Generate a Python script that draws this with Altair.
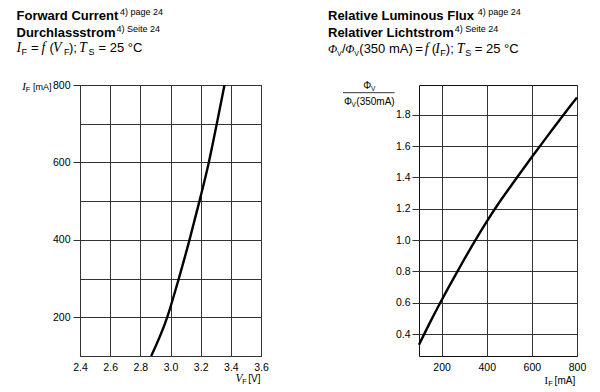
import altair as alt
import pandas as pd

SANS = "Liberation Sans"
SERIF = "Liberation Serif"

# ---------------- data ----------------
vf_values = [2.872, 2.978, 3.055, 3.126, 3.192, 3.254, 3.307, 3.358]
if_values_left = [100, 200, 300, 400, 500, 600, 700, 800]

if_values_right = [100, 150, 200, 250, 300, 350, 400, 450, 500, 550, 600, 650, 700, 750, 800]
flux_values = [0.332, 0.478, 0.616, 0.748, 0.876, 1.0, 1.118, 1.229, 1.331, 1.431,
               1.53, 1.627, 1.723, 1.818, 1.91]

vf_ticks = [2.4, 2.6, 2.8, 3.0, 3.2, 3.4, 3.6]
if_grid_left = [100, 200, 300, 400, 500, 600, 700, 800]
if_ticks_right = [200, 400, 600, 800]
flux_ticks = [0.4, 0.6, 0.8, 1.0, 1.2, 1.4, 1.6, 1.8]

# ---------------- layout constants ----------------
W1, W2, H = 181, 158, 271
OX1, OY = 79.5, 83.3     # page position of left plot area
OX2 = 417.7              # page position of right plot area

GRID = "#333333"


def txt(text, px, py, ox, size=13, font=SANS, weight="normal", style="normal"):
    return (
        alt.Chart(pd.DataFrame({"t": [text]}))
        .mark_text(align="left", baseline="alphabetic", fontSize=size, font=font,
                   fontWeight=weight, fontStyle=style, color="black")
        .encode(x=alt.value(px - ox), y=alt.value(py - OY), text="t:N")
    )


def hline(px1, px2, py, ox):
    return (
        alt.Chart(pd.DataFrame({"a": [0]}))
        .mark_rule(color="black", strokeWidth=0.8)
        .encode(x=alt.value(px1 - ox), x2=alt.value(px2 - ox), y=alt.value(py - OY))
    )


# ---------------- left panel ----------------
df_left = pd.DataFrame({"V": vf_values, "I": if_values_left})

line_left = alt.Chart(df_left).mark_line(
    color="black", strokeWidth=2.4, interpolate="monotone"
).encode(
    x=alt.X("V:Q",
            scale=alt.Scale(domain=[2.4, 3.6], nice=False, zero=False),
            axis=alt.Axis(values=vf_ticks, format=".1f", title=None, grid=True,
                          gridColor=GRID, ticks=False, domain=False,
                          labelPadding=6, labelFontSize=10.5, labelFont=SANS,
                          labelColor="black", labelFlush=False, labelOverlap=False)),
    y=alt.Y("I:Q",
            scale=alt.Scale(domain=[100, 800], nice=False, zero=False),
            axis=alt.Axis(values=if_grid_left, title=None, grid=True, gridColor=GRID,
                          domain=False, tickSize=7, tickColor=GRID,
                          tickOpacity={"condition": {"test": "datum.value % 200 === 0", "value": 1}, "value": 0},
                          labelExpr="datum.value % 200 === 0 ? datum.label : ''",
                          labelPadding=3, labelFontSize=10.5, labelFont=SANS,
                          labelColor="black", labelFlush=False, labelOverlap=False)),
)

left_texts = [
    txt("Forward Current", 16, 18.3, OX1, weight="bold"),
    txt("4) page 24", 119.5, 13, OX1, size=9),
    txt("Durchlassstrom", 16, 35, OX1, weight="bold"),
    txt("4) Seite 24", 116, 30, OX1, size=9),
    # I_F = f (V_F); T_S = 25 °C
    txt("I", 16, 50.7, OX1, size=14, font=SERIF, style="italic"),
    txt("F", 21, 53.5, OX1, size=9),
    txt("=", 30.5, 50.7, OX1),
    txt("f", 41, 50.7, OX1, size=14, font=SERIF, style="italic"),
    txt("(", 49, 50.7, OX1),
    txt("V", 52.5, 50.7, OX1, size=14, font=SERIF, style="italic"),
    txt("F", 63.5, 53.5, OX1, size=9),
    txt(");", 68.5, 50.7, OX1),
    txt("T", 78.5, 50.7, OX1, size=14, font=SERIF, style="italic"),
    txt("S", 88, 53.5, OX1, size=9),
    txt("= 25 °C", 98, 50.7, OX1),
    # y axis title
    txt("I", 21.7, 88, OX1, size=11, font=SERIF, style="italic"),
    txt("F", 25.3, 90, OX1, size=7.5),
    txt("[mA]", 32.5, 88, OX1, size=9),
    # x axis title
    txt("V", 235, 380, OX1, size=11.5, font=SERIF, style="italic"),
    txt("F", 241.7, 382, OX1, size=7.5),
    txt("[V]", 247.7, 380, OX1, size=10),
]

left = alt.layer(line_left, *left_texts).properties(width=W1, height=H)

# ---------------- right panel ----------------
df_right = pd.DataFrame({"I": if_values_right, "R": flux_values})

line_right = alt.Chart(df_right).mark_line(
    color="black", strokeWidth=2.4, interpolate="monotone"
).encode(
    x=alt.X("I:Q",
            scale=alt.Scale(domain=[100, 800], nice=False, zero=False),
            axis=alt.Axis(values=if_ticks_right, title=None, grid=True, gridColor=GRID,
                          ticks=False, domain=False, labelPadding=6,
                          labelFontSize=10.5, labelFont=SANS, labelColor="black",
                          labelFlush=False, labelOverlap=False)),
    y=alt.Y("R:Q",
            scale=alt.Scale(domain=[0.26, 1.99], nice=False, zero=False),
            axis=alt.Axis(values=flux_ticks, format=".1f", title=None, grid=True,
                          gridColor=GRID, domain=False, tickSize=7, tickColor=GRID,
                          labelPadding=2, labelFontSize=10.5, labelFont=SANS,
                          labelColor="black", labelFlush=False, labelOverlap=False)),
)

right_texts = [
    txt("Relative Luminous Flux", 326.7, 18.3, OX2, weight="bold"),
    txt("4) page 24", 476.5, 13, OX2, size=9),
    txt("Relativer Lichtstrom", 326.7, 35, OX2, weight="bold"),
    txt("4) Seite 24", 453.5, 30, OX2, size=9),
    # Φv/Φv(350 mA) = f (I_F); T_S = 25 °C
    txt("Φ", 326.7, 51.7, OX2, size=12, font=SERIF, style="italic"),
    txt("V", 335.7, 54.5, OX2, size=7),
    txt("/", 340.6, 51.7, OX2),
    txt("Φ", 344, 51.7, OX2, size=12, font=SERIF, style="italic"),
    txt("V", 353, 54.5, OX2, size=7),
    txt("(350 mA)", 358, 51.7, OX2),
    txt("=", 414, 51.7, OX2),
    txt("f", 423.5, 51.7, OX2, size=14, font=SERIF, style="italic"),
    txt("(", 430.5, 51.7, OX2),
    txt("I", 434, 51.7, OX2, size=14, font=SERIF, style="italic"),
    txt("F", 439, 54.5, OX2, size=9),
    txt(");", 444.5, 51.7, OX2),
    txt("T", 455.5, 51.7, OX2, size=14, font=SERIF, style="italic"),
    txt("S", 464, 54.5, OX2, size=9),
    txt("= 25 °C", 473.5, 51.7, OX2),
    # y axis title (fraction)
    txt("Φ", 362, 87.5, OX2, size=10),
    txt("V", 369.8, 89.5, OX2, size=6.5),
    hline(341.7, 393.3, 91, OX2),
    txt("Φ", 342.7, 103, OX2, size=10),
    txt("V", 350.3, 105, OX2, size=6.5),
    txt("(350mA)", 355, 103, OX2, size=10),
    # x axis title
    txt("I", 543.3, 382, OX2, size=10.5, font=SERIF),
    txt("F", 547, 384, OX2, size=7.5),
    txt("[mA]", 553.3, 382, OX2, size=10),
]

right = alt.layer(line_right, *right_texts).properties(width=W2, height=H)

chart = (
    alt.hconcat(left, right, spacing=58)
    .properties(padding={"left": 8, "top": -1, "right": 0, "bottom": 0})
    .configure_view(stroke="#111", strokeWidth=1)
)

chart.save("out.html", embed_options={"renderer": "svg", "actions": False})
